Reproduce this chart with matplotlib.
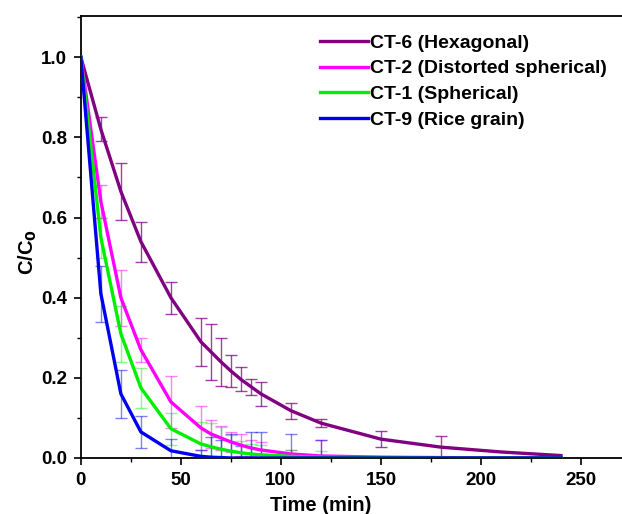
import numpy as np
import matplotlib
matplotlib.use("Agg")
import matplotlib.pyplot as plt
from matplotlib.ticker import MultipleLocator

plt.rcParams['font.family'] = ['Liberation Sans', 'DejaVu Sans']
plt.rcParams['font.weight'] = 'bold'

time = [0, 10, 20, 30, 45, 60, 65, 70, 75, 80, 85, 90, 105, 120, 150, 180, 210, 240]

labels = ["CT-6 (Hexagonal)", "CT-2 (Distorted spherical)", "CT-1 (Spherical)", "CT-9 (Rice grain)"]
colors = ["#800080", "#ff00ff", "#00ee00", "#0000ee"]

ct6 = [1.0, 0.82, 0.665, 0.54, 0.40, 0.29, 0.265, 0.24, 0.217, 0.196, 0.178, 0.16, 0.118, 0.087, 0.047, 0.027, 0.015, 0.006]
ct2 = [1.0, 0.64, 0.40, 0.27, 0.14, 0.075, 0.06, 0.05, 0.04, 0.032, 0.025, 0.02, 0.01, 0.005, 0.002, 0.001, 0.0, 0.0]
ct1 = [1.0, 0.55, 0.31, 0.175, 0.073, 0.035, 0.028, 0.022, 0.017, 0.013, 0.01, 0.008, 0.004, 0.002, 0.001, 0.0, 0.0, 0.0]
ct9 = [1.0, 0.41, 0.16, 0.065, 0.018, 0.004, 0.002, 0.001, 0.0, 0.0, 0.0, 0.0, 0.0, 0.0, 0.0, 0.0, 0.0, 0.0]

err6 = [0, 0.03, 0.07, 0.05, 0.04, 0.06, 0.07, 0.06, 0.04, 0.03, 0.02, 0.03, 0.02, 0.01, 0.02, 0.028, 0, 0]
err2 = [0, 0.04, 0.07, 0.03, 0.065, 0.055, 0.035, 0.03, 0.025, 0.028, 0.02, 0.02, 0.01, 0.04, 0, 0, 0, 0]
err1 = [0, 0.05, 0.07, 0.05, 0.04, 0.055, 0.06, 0.055, 0.04, 0.03, 0.025, 0.025, 0.015, 0.015, 0, 0, 0, 0]
err9 = [0, 0.07, 0.06, 0.04, 0.03, 0.015, 0.05, 0.045, 0.06, 0.03, 0.065, 0.065, 0.06, 0.045, 0, 0, 0, 0]

series = [ct6, ct2, ct1, ct9]
errors = [err6, err2, err1, err9]
err_alpha = [0.75, 0.5, 0.45, 0.5]

fig = plt.figure(figsize=(6.22, 5.14), dpi=100)
ax = fig.add_axes([0.130, 0.109, 0.870, 0.860])

t = np.array(time, dtype=float)
for vals, errs, c, lab, a in zip(series, errors, colors, labels, err_alpha):
    v = np.array(vals)
    e = np.array(errs)
    m = e > 0
    ax.errorbar(t[m], v[m], yerr=e[m], fmt='none', ecolor=c, elinewidth=1.0,
                capsize=4, capthick=1.0, alpha=a, zorder=2)
for vals, c, lab in zip(series, colors, labels):
    ax.plot(t, vals, color=c, lw=2.4, label=lab, zorder=3)

ax.set_xlim(0, 270.5)
ax.set_ylim(0, 1.103)
ax.xaxis.set_major_locator(MultipleLocator(50))
ax.xaxis.set_minor_locator(MultipleLocator(25))
ax.yaxis.set_major_locator(MultipleLocator(0.2))
ax.yaxis.set_minor_locator(MultipleLocator(0.1))
ax.yaxis.set_major_formatter(plt.FuncFormatter(lambda v, p: f"{v:.1f}"))
ax.tick_params(which='major', direction='out', length=5, width=1.2, labelsize=13.5, pad=5)
ax.tick_params(which='minor', direction='out', length=3, width=1.0)
ax.spines['right'].set_visible(False)
for s in ['left', 'bottom', 'top']:
    ax.spines[s].set_linewidth(1.3)

ax.set_xlabel("Time (min)", fontsize=14.5, fontweight='bold')
ax.xaxis.set_label_coords(0.444, -0.085)
ax.set_ylabel("C/C$_\\mathbf{0}$", fontsize=14.5, fontweight='bold')
ax.yaxis.set_label_coords(-0.078, 0.465)

leg = ax.legend(loc='upper left', bbox_to_anchor=(0.42, 0.985), frameon=False,
                fontsize=14, handlelength=2.5, handletextpad=0.1,
                labelspacing=0.41, borderaxespad=0.2)

fig.savefig("out.png", dpi=100)
